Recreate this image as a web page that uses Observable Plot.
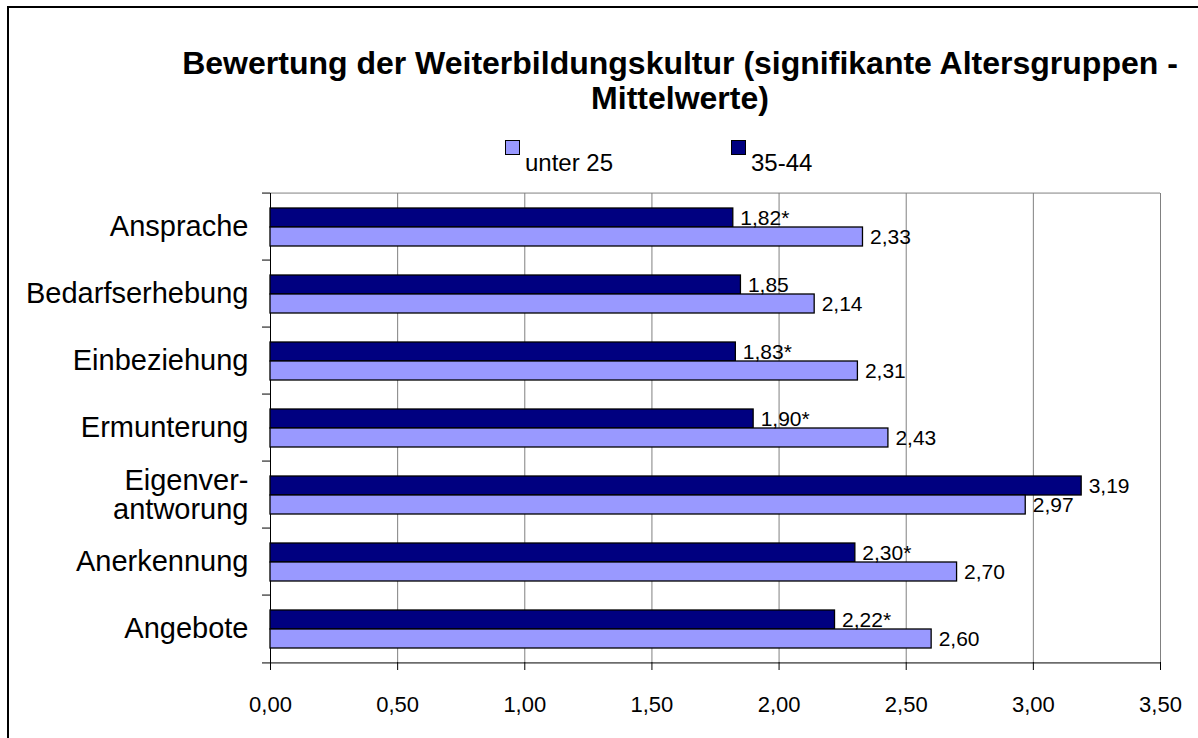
<!DOCTYPE html>
<html>
<head>
<meta charset="utf-8">
<script src="https://cdn.jsdelivr.net/npm/d3@7"></script>
<script src="https://cdn.jsdelivr.net/npm/@observablehq/plot@0.6"></script>
<style>
  html, body { margin: 0; padding: 0; background: #fff; }
  body { font-family: "Liberation Sans", Arial, sans-serif; color: #000; }
  #wrap { position: relative; width: 1198px; height: 738px; overflow: hidden; }
  #border { position: absolute; left: 7px; top: 6px; width: 1400px; height: 1000px;
            border-left: 2px solid #000; border-top: 2px solid #000; }
  #title { position: absolute; left: 130px; width: 1100px; top: 46px; text-align: center;
           font-weight: bold; font-size: 32px; line-height: 35px; }
  .sw { position: absolute; width: 13px; height: 13px; border: 1px solid #000; top: 140px; }
  .lt { position: absolute; font-size: 24px; line-height: 24px; top: 151px; white-space: nowrap; }
  #chart { position: absolute; left: 0; top: 180px; }
</style>
</head>
<body>
<div id="wrap">
  <div id="border"></div>
  <div id="title"></div>
  <div id="legend"></div>
  <div id="chart"></div>
</div>
<script>
// ---- data ----
const titleLines = ["Bewertung der Weiterbildungskultur (signifikante Altersgruppen -", "Mittelwerte)"];
const categories = ["Ansprache", "Bedarfserhebung", "Einbeziehung", "Ermunterung", "Eigenver-\nantworung", "Anerkennung", "Angebote"];
const seriesNames = ["35-44", "unter 25"];
const legendOrder = ["unter 25", "35-44"];
const values3544 = [1.82, 1.85, 1.83, 1.90, 3.19, 2.30, 2.22];
const valuesUnter25 = [2.33, 2.14, 2.31, 2.43, 2.97, 2.70, 2.60];
const significant3544 = [true, false, true, true, false, true, true];
const xTicks = [0, 0.5, 1, 1.5, 2, 2.5, 3, 3.5];
const seriesColors = ["#000080", "#9999FF"];

// ---- build table ----
const fmt = v => v.toFixed(2).replace(".", ",");
const data = categories.flatMap((c, i) => [
  { cat: c, series: seriesNames[0], value: values3544[i], label: fmt(values3544[i]) + (significant3544[i] ? "*" : "") },
  { cat: c, series: seriesNames[1], value: valuesUnter25[i], label: fmt(valuesUnter25[i]) }
]);

// ---- title & legend ----
const titleEl = document.getElementById("title");
titleLines.forEach(line => {
  const d = document.createElement("div");
  d.textContent = line;
  titleEl.appendChild(d);
});
const legendPos = { "unter 25": [505, 525], "35-44": [731, 751] };
const legend = document.getElementById("legend");
legendOrder.forEach(name => {
  const [sx, tx] = legendPos[name];
  const sw = document.createElement("div");
  sw.className = "sw";
  sw.style.left = sx + "px";
  sw.style.background = seriesColors[seriesNames.indexOf(name)];
  legend.appendChild(sw);
  const t = document.createElement("div");
  t.className = "lt";
  t.style.left = tx + "px";
  t.textContent = name;
  legend.appendChild(t);
});

// ---- chart ----
const W = 1198, H = 558, mL = 270, mR = 38, mT = 10, mB = 73;
const plotW = W - mL - mR;
const bandH = (H - mT - mB) / categories.length;

const chart = Plot.plot({
  width: W, height: H,
  marginLeft: mL, marginRight: mR, marginTop: mT, marginBottom: mB,
  style: { fontFamily: "'Liberation Sans', Arial, sans-serif", background: "transparent", color: "#000", overflow: "visible" },
  x: { domain: [0, 3.5], label: null },
  fy: { domain: categories, padding: 0, label: null },
  y: { domain: seriesNames, paddingInner: 0, paddingOuter: 0.7, axis: null, label: null },
  color: { domain: seriesNames, range: seriesColors },
  marks: [
    Plot.gridX(xTicks.slice(1), { stroke: "#808080", strokeOpacity: 1, strokeWidth: 1 }),
    // top border of plot area (gray)
    Plot.axisFy({ anchor: "left", ticks: [categories[0]], tickSize: -plotW, dy: -bandH / 2, tickFormat: () => "", stroke: "#808080", strokeOpacity: 1 }),
    // boundary tick marks between categories
    Plot.axisFy({ anchor: "left", tickSize: 8, dy: -bandH / 2, tickFormat: () => "", stroke: "#000", strokeOpacity: 1 }),
    Plot.axisFy({ anchor: "left", ticks: [categories[categories.length - 1]], tickSize: 8, dy: bandH / 2, tickFormat: () => "", stroke: "#000", strokeOpacity: 1 }),
    // bottom axis line
    Plot.axisFy({ anchor: "left", ticks: [categories[categories.length - 1]], tickSize: -plotW, dy: bandH / 2, tickFormat: () => "", stroke: "#000", strokeOpacity: 1 }),
    // category labels
    Plot.axisFy({ anchor: "left", tickSize: 0, tickPadding: 22, fontSize: 29, lineHeight: 1.02 }),
    Plot.ruleX([0], { stroke: "#000", strokeWidth: 1 }),
    Plot.barX(data, { fy: "cat", y: "series", x: "value", fill: "series", stroke: "#000", strokeWidth: 1.3 }),
    Plot.text(data, { fy: "cat", y: "series", x: "value", text: "label", textAnchor: "start", dx: 7, fontSize: 21, fill: "#000" }),
    Plot.axisX({ ticks: xTicks, tickFormat: fmt, tickSize: 8, tickPadding: 26, fontSize: 22, stroke: "#000" })
  ]
});
document.getElementById("chart").appendChild(chart);
</script>
</body>
</html>
